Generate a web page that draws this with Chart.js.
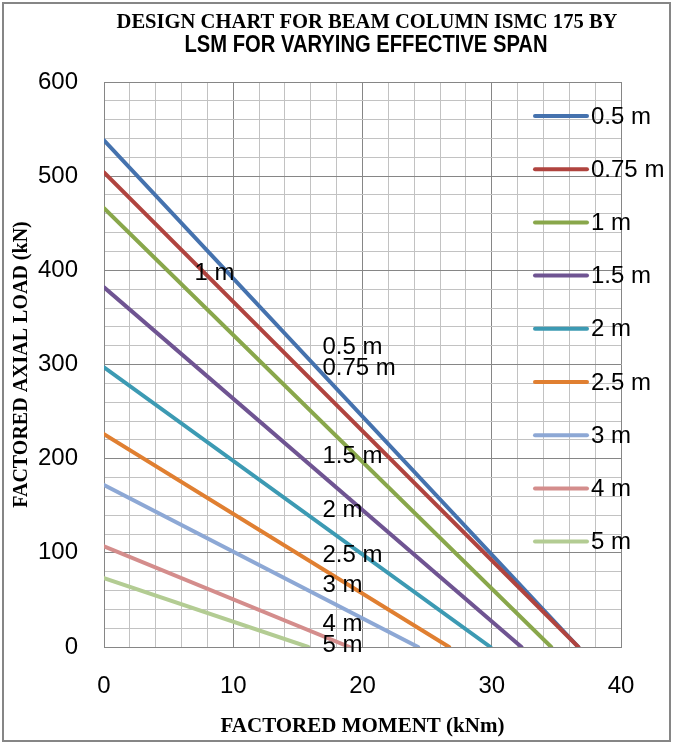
<!DOCTYPE html>
<html>
<head>
<meta charset="utf-8">
<title>Design chart for beam column ISMC 175</title>
<script src="https://cdn.jsdelivr.net/npm/chart.js@4.4.0/dist/chart.umd.min.js"></script>
<style>
  html, body { margin: 0; padding: 0; background: #fff; }
  #wrap { width: 673px; height: 745px; }
</style>
</head>
<body>
<div id="wrap"><canvas id="designChart" width="673" height="745"></canvas></div>
<script>
// Effective spans (one line per span)
const SPANS = ['0.5 m', '0.75 m', '1 m', '1.5 m', '2 m', '2.5 m', '3 m', '4 m', '5 m'];
// Factored axial load at zero moment (kN)
const AXIAL_AT_ZERO_MOMENT = [538, 504, 466, 382, 297, 226, 172, 107, 73];
// Factored moment at zero axial load (kNm)
const MOMENT_AT_ZERO_AXIAL = [36.7, 36.7, 34.6, 32.3, 29.9, 26.7, 24.3, 19.0, 15.8];
const COLORS = ['#4572AE', '#B0443F', '#89A74B', '#6F5492', '#3C9AB3', '#E07F31', '#8DA8D5', '#D48D8C', '#B3CC93'];

// Labels written inside the plot, anchored in data units (kNm, kN)
const NOTE_TEXT = ['0.5 m', '0.75 m', '1 m', '1.5 m', '2 m', '2.5 m', '3 m', '4 m', '5 m'];
const NOTE_X = [16.9, 16.9, 7.0, 16.9, 16.9, 16.9, 16.9, 16.9, 16.9];
const NOTE_Y = [318, 296, 397, 202, 145, 97, 65, 24, 2];

const TITLE_LINES = ['DESIGN CHART FOR BEAM COLUMN ISMC 175 BY', 'LSM FOR VARYING EFFECTIVE SPAN'];

const X_MAX = 40, X_MINOR = 2, X_MAJOR = 10;
const Y_MAX = 600, Y_MINOR = 20, Y_MAJOR = 100;

const SANS = '"Liberation Sans", Arial, sans-serif';
const SERIF = '"Liberation Serif", "Times New Roman", serif';
const TICK_FONT = { family: SANS, size: 24 };

/**
 * Page frame: white background and grey border
 */
const framePlugin = {
  id: 'frame',
  beforeDraw(chart) {
    const { ctx, width, height } = chart;
    ctx.save();
    ctx.fillStyle = '#fff';
    ctx.fillRect(0, 0, width, height);
    ctx.strokeStyle = '#868686';
    ctx.lineWidth = 2;
    ctx.strokeRect(3, 3, width - 6, height - 7);
    ctx.restore();
  }
};

/**
 * Two-line title, centred a little right of the plot centre like the original.
 * The second line is a condensed sans, so it is squeezed horizontally.
 */
const titlePlugin = {
  id: 'twoLineTitle',
  afterDraw(chart) {
    const { ctx } = chart;
    ctx.save();
    ctx.fillStyle = '#000';
    ctx.textAlign = 'center';
    ctx.textBaseline = 'middle';
    ctx.font = `bold 20.6px ${SERIF}`;
    ctx.fillText(TITLE_LINES[0], 367, 23);

    ctx.font = `bold 23px ${SANS}`;
    const squeeze = Math.min(1, 363 / ctx.measureText(TITLE_LINES[1]).width);
    ctx.translate(366, 46);
    ctx.scale(squeeze, 1);
    ctx.fillText(TITLE_LINES[1], 0, 0);
    ctx.restore();
  }
};

/**
 * Legend drawn over the right part of the plot (Excel style)
 */
const sideLegendPlugin = {
  id: 'sideLegend',
  afterDatasetsDraw(chart) {
    const { ctx } = chart;
    ctx.save();
    ctx.font = `${TICK_FONT.size}px ${TICK_FONT.family}`;
    ctx.textBaseline = 'middle';
    ctx.textAlign = 'left';
    chart.data.datasets.forEach((ds, i) => {
      const y = 116 + i * 53.2;
      ctx.strokeStyle = ds.borderColor;
      ctx.lineWidth = 4;
      ctx.lineCap = 'round';
      ctx.beginPath();
      ctx.moveTo(535, y);
      ctx.lineTo(587, y);
      ctx.stroke();
      ctx.fillStyle = '#000';
      ctx.fillText(ds.label, 591, y + 1);
    });
    ctx.restore();
  }
};

/**
 * Span labels inside the plot
 */
const notesPlugin = {
  id: 'notes',
  afterDatasetsDraw(chart) {
    const { ctx, scales: { x, y } } = chart;
    ctx.save();
    ctx.font = `${TICK_FONT.size}px ${TICK_FONT.family}`;
    ctx.textBaseline = 'middle';
    ctx.textAlign = 'left';
    ctx.fillStyle = '#000';
    NOTE_TEXT.forEach((t, i) => {
      ctx.fillText(t, x.getPixelForValue(NOTE_X[i]), y.getPixelForValue(NOTE_Y[i]));
    });
    ctx.restore();
  }
};

// later spans are drawn over earlier ones, as in the original
const datasets = SPANS.map((span, i) => ({
  label: span,
  data: [
    { x: 0, y: AXIAL_AT_ZERO_MOMENT[i] },
    { x: MOMENT_AT_ZERO_AXIAL[i], y: 0 }
  ],
  order: -i,
  showLine: true,
  borderColor: COLORS[i],
  backgroundColor: COLORS[i],
  borderWidth: 4,
  borderCapStyle: 'round',
  pointRadius: 0,
  pointHoverRadius: 0
}));

new Chart(document.getElementById('designChart'), {
  type: 'scatter',
  data: { datasets },
  options: {
    responsive: false,
    animation: false,
    events: [],
    layout: { padding: { left: 0, right: 52, top: 82, bottom: 0 } },
    plugins: {
      legend: { display: false },
      tooltip: { enabled: false }
    },
    scales: {
      x: {
        type: 'linear',
        min: 0,
        max: X_MAX,
        afterFit: scale => { scale.height = 98; },
        border: { color: '#868686', width: 1 },
        grid: {
          drawTicks: false,
          color: c => (c.tick.value % X_MAJOR === 0 ? '#868686' : '#c2c2c2')
        },
        ticks: {
          stepSize: X_MINOR,
          autoSkip: false,
          maxRotation: 0,
          padding: 25,
          color: '#000',
          font: TICK_FONT,
          callback: v => (v % X_MAJOR === 0 ? v : '')
        },
        title: {
          display: true,
          text: 'FACTORED MOMENT (kNm)',
          color: '#000',
          font: { family: SERIF, size: 21, weight: 'bold' },
          padding: { top: 0, bottom: 6 }
        }
      },
      y: {
        type: 'linear',
        min: 0,
        max: Y_MAX,
        afterFit: scale => { scale.width = 104; },
        border: { color: '#868686', width: 1 },
        grid: {
          drawTicks: false,
          color: c => (c.tick.value % Y_MAJOR === 0 ? '#868686' : '#c2c2c2')
        },
        ticks: {
          stepSize: Y_MINOR,
          autoSkip: false,
          padding: 26,
          color: '#000',
          font: TICK_FONT,
          callback: v => (v % Y_MAJOR === 0 ? v : '')
        },
        title: {
          display: true,
          text: 'FACTORED AXIAL LOAD (kN)',
          color: '#000',
          font: { family: SERIF, size: 20, weight: 'bold' },
          padding: { top: 10, bottom: 0 }
        }
      }
    }
  },
  plugins: [framePlugin, titlePlugin, sideLegendPlugin, notesPlugin]
});
</script>
</body>
</html>
